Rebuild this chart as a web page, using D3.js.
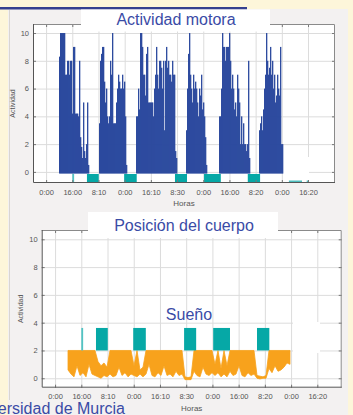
<!DOCTYPE html>
<html>
<head>
<meta charset="utf-8">
<script src="https://cdn.jsdelivr.net/npm/d3@7"></script>
<style>
  body { margin: 0; background: #fdf6da; overflow: hidden; }
  svg { display: block; font-family: 'Liberation Sans', Arial, sans-serif; }
  .grid line { stroke: #dcdcdc; stroke-width: 1; }
  .grid path { display: none; }
  .axis path { display: none; }
  .axis line { stroke: #777; }
  .axis text { font-size: 7.5px; fill: #555; }
  .title { font-size: 16px; fill: #3a4ba6; }
</style>
</head>
<body>
<div id="chart"></div>
<script>
// x axis is in "tick steps": tick i sits at x = i
const tickLabels = ['0:00', '16:00', '8:10', '0:00', '16:10', '8:30', '0:00', '16:00', '8:20', '0:00', '16:20'];
const yTickValues = [0, 2, 4, 6, 8, 10];

// motor activity, one sample every actStep, blocks starting at actStarts
const actStep = 0.0382;
const actStarts = [0.493, 2.02, 3.433, 5.342, 6.602, 8.129];
const actBlock1 = [8.3, 10, 10, 10, 10, 10, 7, 7, 8, 8, 7, 8, 8, 4.2, 9, 9, 4.2, 4.2, 4.2, 4, 8, 2.5, 1.8, 1, 5, 1.5, 1, 2, 5, 0.5];
const actBlock2 = [3.5, 8, 8.5, 9, 9, 6.5, 5, 6, 4, 3.5, 4, 8, 7, 10, 3.5, 3.5, 3.5, 5, 6, 7, 6.5, 6, 6, 7, 6, 6.5, 4, 0.5];
const actBlock3 = [4, 4, 6, 4.5, 10, 10, 9, 7, 7, 5.5, 8.5, 9, 5, 5, 5, 5, 5, 4, 6, 7, 9, 7, 6, 8, 8, 7.5, 6, 8, 3, 8, 9, 7.5, 8, 7, 7, 6.5, 8, 7, 7, 1.5, 1];
const actBlock4 = [3, 6, 8.5, 10, 7, 6, 5, 7, 6, 6.5, 6, 5, 4, 6, 5.5, 7, 4.5, 5, 4, 2.5, 0.5];
const actBlock5 = [4, 4, 6, 10, 9, 9, 8, 9, 9, 9, 10, 8, 6, 7, 6, 4.5, 5, 4, 7, 6, 5, 2, 4, 2, 3.5, 2, 2, 1.5, 2, 8, 1];
const actBlock6 = [3, 3.5, 4, 3, 4.5, 6, 7, 10, 8, 7, 7.5, 9, 7, 8, 6, 7, 5, 5.5, 7, 6, 5.5, 9, 2, 2];
const actBlocks = [actBlock1, actBlock2, actBlock3, actBlock4, actBlock5, actBlock6];

// sleep periods (same for both charts)
const sleepStart = [1.0, 1.56, 2.98, 4.92, 6.03, 7.70];
const sleepEnd = [1.07, 2.01, 3.46, 5.38, 6.67, 8.17];
const tailStart = [9.27, 9.95];
const tailEnd = [9.77, 10.03];

// body position, one sample every posStep
const posStart = 0.493;
const posStep = 0.1144;
const posHigh = [2, 2, 2, 2, 2, 2, 2, 2, 2, 2,
  1.2, 0.9, 1.1, 0.8,
  2, 2, 2, 2, 2, 2, 2, 2,
  0.9, 2, 0.6, 0.8,
  2, 2, 2, 2, 2, 2, 2, 2, 2, 2, 2, 2, 2,
  0.1, 0.05, 0.1,
  2, 2, 2, 2, 2, 2, 2,
  1.0, 2, 0.7, 2, 0.9,
  2, 2, 2, 2, 2, 2, 2, 2, 2,
  0.2, 0.15, 0.1, 0.2,
  2, 2, 2, 2, 2, 2, 2, 2];
const posLow = [0.6, 0.3, 0.1, 0.9, 0.2, 0.4, 0.1, 1.0, 0.3, 0.2,
  0.1, 0, 0.2, 0.1,
  0.3, 0.1, 0.2, 0.8, 0.2, 0.4, 0.1, 0.3,
  0.2, 0.1, 0.3, 0.1,
  0.3, 1.0, 0.2, 0.1, 0.4, 0.2, 0.9, 0.2, 0.3, 0.1, 0.5, 0.2, 0.3,
  -0.1, -0.1, -0.1,
  0.5, 0.2, 0.1, 0.8, 0.3, 0.2, 0.4,
  0.2, 0.4, 0.1, 0.3, 0.1,
  0.5, 0.2, 0.3, 0.9, 0.2, 0.1, 0.4, 0.2, 0.3,
  0, -0.05, 0, 0,
  0.7, 0.4, 0.9, 0.5, 0.6, 0.8, 1.1, 1.0];

const width = 353;
const height = 415;
const blue = '#2b499e';
const teal = '#06a8a6';
const orange = '#f8a21c';

const svg = d3.select('#chart').append('svg')
  .attr('width', width)
  .attr('height', height);

// background panels
svg.append('rect').attr('width', width).attr('height', height).attr('fill', '#fdf6da');
svg.append('rect').attr('x', 8).attr('y', 9).attr('width', 340).attr('height', height - 9).attr('fill', '#f3f1f1');
svg.append('line').attr('x1', 9.5).attr('x2', 9.5).attr('y1', 10).attr('y2', 400).attr('stroke', '#d9d5d2');
svg.append('rect').attr('x', 0).attr('y', 7).attr('width', 247).attr('height', 2.5).attr('fill', '#34408f');

function drawPanel(x, y, box) {
  const g = svg.append('g');
  g.append('rect')
    .attr('x', box.left).attr('y', box.top)
    .attr('width', box.right - box.left).attr('height', box.bottom - box.top)
    .attr('fill', '#fff');

  // gridlines
  g.append('g').attr('class', 'grid')
    .attr('transform', 'translate(0,' + box.bottom + ')')
    .call(d3.axisBottom(x).tickValues(d3.range(tickLabels.length)).tickSize(-(box.bottom - box.top)).tickFormat(''));
  g.append('g').attr('class', 'grid')
    .attr('transform', 'translate(' + box.left + ',0)')
    .call(d3.axisLeft(y).tickValues(yTickValues).tickSize(-(box.right - box.left)).tickFormat(''));
  return g;
}

function drawFrame(x, y, box, xLabelPad, horasY, yLabelX) {
  const g = svg.append('g');
  const xTicks = d3.range(tickLabels.length);
  g.append('g').attr('class', 'axis')
    .attr('transform', 'translate(0,' + box.bottom + ')')
    .call(d3.axisBottom(x).tickValues(xTicks).tickSize(-3).tickPadding(xLabelPad).tickFormat((d) => tickLabels[d]));
  g.append('g').attr('class', 'axis')
    .attr('transform', 'translate(0,' + box.top + ')')
    .call(d3.axisTop(x).tickValues(xTicks).tickSize(-3).tickFormat(''));
  g.append('g').attr('class', 'axis')
    .attr('transform', 'translate(' + box.left + ',0)')
    .call(d3.axisLeft(y).tickValues(yTickValues).tickSize(-3).tickPadding(4));
  g.append('g').attr('class', 'axis')
    .attr('transform', 'translate(' + box.right + ',0)')
    .call(d3.axisRight(y).tickValues(yTickValues).tickSize(-3).tickFormat(''));

  // box: light top/right, darker left/bottom
  g.append('path')
    .attr('d', 'M' + box.left + ',' + (box.top + 0.5) + 'H' + (box.right - 0.5) + 'V' + box.bottom)
    .attr('fill', 'none').attr('stroke', '#8a8a8a');
  g.append('path')
    .attr('d', 'M' + (box.left + 0.5) + ',' + box.top + 'V' + (box.bottom - 0.5) + 'H' + box.right)
    .attr('fill', 'none').attr('stroke', '#555');

  g.append('text')
    .attr('x', (box.left + box.right) / 2).attr('y', horasY)
    .attr('text-anchor', 'middle')
    .attr('font-size', 8).attr('fill', '#555')
    .text('Horas');
  g.append('text')
    .attr('transform', 'translate(' + yLabelX + ',' + (box.top + box.bottom) / 2 + ') rotate(-90)')
    .attr('text-anchor', 'middle')
    .attr('font-size', 7).attr('fill', '#555')
    .text('Actividad');
}

function titleBox(x0, y0, w, h, label, tx, ty) {
  svg.append('rect').attr('x', x0).attr('y', y0).attr('width', w).attr('height', h).attr('fill', '#fff');
  svg.append('text').attr('class', 'title')
    .attr('x', tx).attr('y', ty).attr('text-anchor', 'middle')
    .text(label);
}

// ---------- top chart: Actividad motora ----------
const topBox = { left: 33, right: 335, top: 24, bottom: 183 };
const xTop = d3.scaleLinear().domain([-0.5, 11.03]).range([topBox.left, topBox.right]);
const yTop = d3.scaleLinear().domain([-0.8, 10.65]).range([topBox.bottom, topBox.top]);

const gTop = drawPanel(xTop, yTop, topBox);
gTop.append('rect').attr('x', 283).attr('y', 157).attr('width', 26).attr('height', 24).attr('fill', '#fff');

const actData = [];
actBlocks.forEach((block, b) => {
  block.forEach((v, i) => actData.push({ t: actStarts[b] + i * actStep, v: v }));
});
gTop.append('g').selectAll('rect')
  .data(actData)
  .enter()
  .append('rect')
  .attr('x', (d) => xTop(d.t))
  .attr('width', xTop(actStep) - xTop(0) + 0.3)
  .attr('y', (d) => yTop(d.v))
  .attr('height', (d) => yTop(-0.12) - yTop(d.v))
  .attr('fill', blue);

gTop.append('g').selectAll('rect')
  .data(sleepStart)
  .enter()
  .append('rect')
  .attr('x', (d) => xTop(d))
  .attr('width', (d, i) => xTop(sleepEnd[i]) - xTop(d))
  .attr('y', yTop(-0.15))
  .attr('height', yTop(-0.8) - yTop(-0.15))
  .attr('fill', (d, i) => (i === 0 ? '#52c3c3' : teal));

gTop.append('g').selectAll('rect')
  .data(tailStart)
  .enter()
  .append('rect')
  .attr('x', (d) => xTop(d))
  .attr('width', (d, i) => xTop(tailEnd[i]) - xTop(d))
  .attr('y', yTop(-0.62))
  .attr('height', yTop(-0.8) - yTop(-0.62))
  .attr('fill', '#4fbfbf');

drawFrame(xTop, yTop, topBox, 7, 206, 15);
titleBox(81, 9.5, 189, 22, 'Actividad motora', 176, 25);

// ---------- bottom chart: Posición del cuerpo ----------
const botBox = { left: 41.7, right: 341.7, top: 230, bottom: 387.7 };
const xBot = d3.scaleLinear().domain([-0.51, 10.93]).range([botBox.left, botBox.right]);
const yBot = d3.scaleLinear().domain([-0.68, 10.67]).range([botBox.bottom, botBox.top]);

const gBot = drawPanel(xBot, yBot, botBox);
gBot.append('rect').attr('x', 293).attr('y', 322).attr('width', 27).attr('height', 31).attr('fill', '#fff');

const posData = posHigh.map((h, i) => ({ t: posStart + i * posStep, hi: h, lo: posLow[i] }));
const posArea = d3.area()
  .x((d) => xBot(d.t))
  .y0((d) => yBot(d.lo))
  .y1((d) => yBot(d.hi));
gBot.append('path')
  .datum(posData)
  .attr('d', posArea)
  .attr('fill', orange)
  .attr('stroke', orange)
  .attr('stroke-width', 0.8);

gBot.append('g').selectAll('rect')
  .data(sleepStart)
  .enter()
  .append('rect')
  .attr('x', (d) => xBot(d))
  .attr('width', (d, i) => xBot(sleepEnd[i]) - xBot(d))
  .attr('y', yBot(3.62))
  .attr('height', yBot(2) - yBot(3.62))
  .attr('fill', (d, i) => (i === 0 ? '#52c3c3' : teal));

svg.append('text').attr('class', 'title')
  .attr('x', 189).attr('y', 320).attr('text-anchor', 'middle')
  .text('Sueño');

drawFrame(xBot, yBot, botBox, 6, 411, 23);
titleBox(88, 212, 190, 26, 'Posición del cuerpo', 184, 231);

// footer, cut at the left edge
svg.append('text').attr('class', 'title')
  .attr('x', 125).attr('y', 414).attr('text-anchor', 'end')
  .attr('font-size', 14.5)
  .text('Universidad de Murcia');
</script>
</body>
</html>
